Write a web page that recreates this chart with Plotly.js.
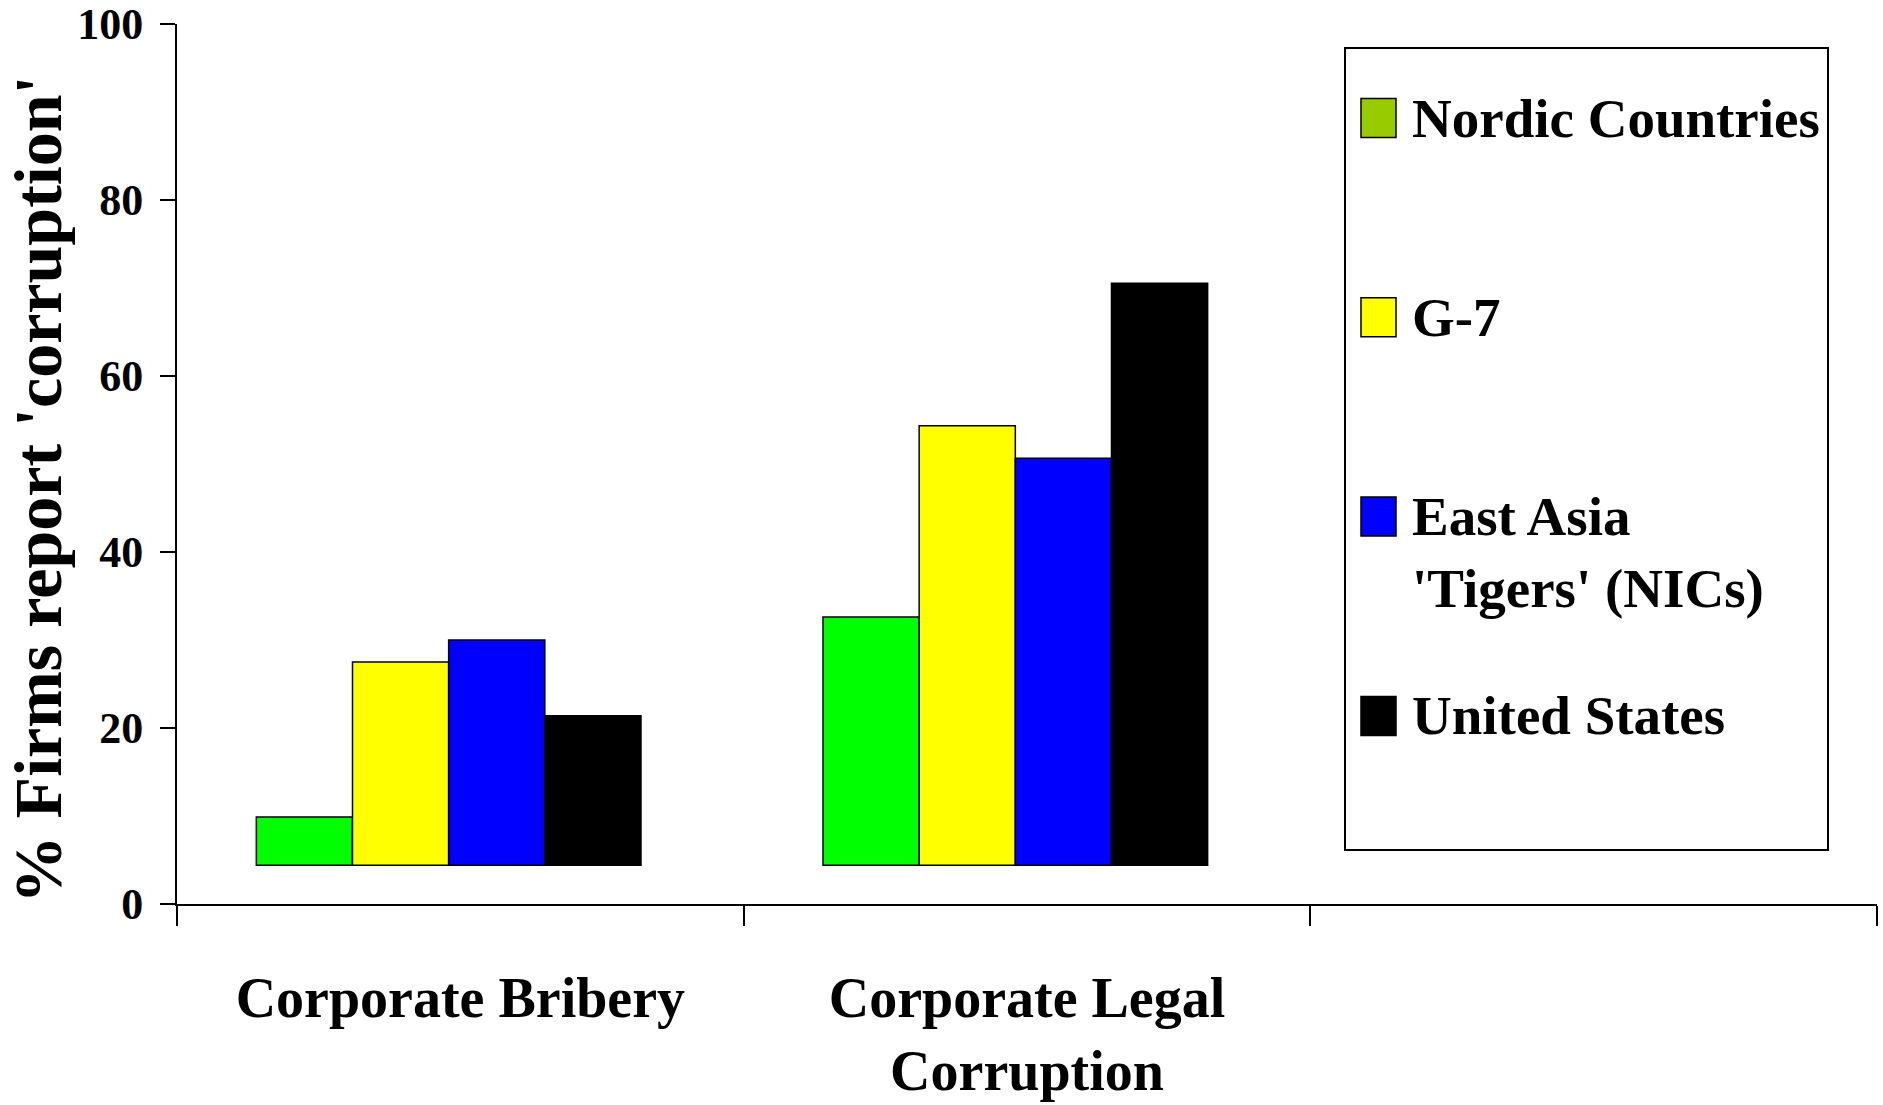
<!DOCTYPE html>
<html>
<head>
<meta charset="utf-8">
<script src="https://cdn.plot.ly/plotly-3.0.1.min.js"></script>
<style>html,body{margin:0;padding:0;background:#fff;}#chart{width:1883px;height:1105px;}</style>
</head>
<body>
<div id="chart"></div>
<script>
// ---- data ----
const categories = ["Corporate Bribery", "Corporate Legal<br>Corruption"];
const emptySlot = " ";
const seriesNames = ["Nordic Countries", "G-7", "East Asia<br>'Tigers' (NICs)", "United States"];
const barColors = ["#00FF00", "#FFFF00", "#0000FF", "#000000"];
const legendColors = ["#99CC00", "#FFFF00", "#0000FF", "#000000"];
const nordic = [9.9, 32.6];
const g7 = [27.5, 54.35];
const eastAsia = [30.0, 50.65];
const unitedStates = [21.4, 70.55];
const barBase = 4.4;
const yTicks = [0, 20, 40, 60, 80, 100];
const yTitle = "% Firms report 'corruption'";

// ---- layout constants ----
const W = 1883, H = 1105;
const M = {l: 177, r: 6, t: 24, b: 201};
const plotW = W - M.l - M.r, plotH = H - M.t - M.b;
const px2x = p => (p - M.l) / plotW;
const py2y = p => (H - M.b - p) / plotH;
const FONT = "Liberation Serif, Times New Roman, serif";

const seriesValues = [nordic, g7, eastAsia, unitedStates];
const barWidth = 0.1697;
const firstOffset = -0.36;

const traces = seriesValues.map((vals, i) => ({
  type: "bar",
  name: seriesNames[i],
  x: categories,
  y: vals.map(v => v - barBase),
  base: vals.map(() => barBase),
  width: barWidth,
  offset: firstOffset + i * barWidth,
  marker: {color: barColors[i], line: {color: "#000000", width: 1.5}},
  showlegend: false,
  hoverinfo: "skip"
}));

// manual legend (box, swatches, labels)
const shapes = [{
  type: "rect", xref: "paper", yref: "paper",
  x0: px2x(1345), x1: px2x(1828), y0: py2y(850), y1: py2y(48),
  line: {color: "#000000", width: 2}, fillcolor: "rgba(0,0,0,0)"
}];
const annotations = [];
const rowY0 = 118, rowStep = 199.3, sw = 19.5;
seriesNames.forEach((nm, i) => {
  const cy = rowY0 + i * rowStep;
  shapes.push({
    type: "rect", xref: "paper", yref: "paper",
    x0: px2x(1361), x1: px2x(1396), y0: py2y(cy + sw), y1: py2y(cy - sw),
    fillcolor: legendColors[i], line: {color: "#000000", width: 1.5}
  });
  const lines = nm.split("<br>").length;
  const textCy = cy + (lines - 1) * 72.4 / 2;
  annotations.push({
    xref: "paper", yref: "paper", x: px2x(1410), y: py2y(textCy),
    xanchor: "left", yanchor: "middle", align: "left", showarrow: false,
    text: nm, font: {family: FONT, size: 55, weight: "bold", color: "#000000"}
  });
});

const layout = {
  width: W, height: H,
  margin: M,
  paper_bgcolor: "#ffffff", plot_bgcolor: "#ffffff",
  barmode: "overlay",
  showlegend: false,
  xaxis: {
    type: "category",
    categoryorder: "array", categoryarray: categories.concat([emptySlot]),
    range: [-0.5, 2.5],
    showline: true, linecolor: "#000000", linewidth: 2,
    ticks: "outside", tickson: "boundaries", ticklen: 20, tickwidth: 2, tickcolor: "#000000",
    showgrid: false, zeroline: false,
    tickfont: {family: FONT, size: 56, weight: "bold", color: "#000000"},
    ticklabelstandoff: 44,
    fixedrange: true
  },
  yaxis: {
    range: [0, 100],
    tickvals: yTicks, ticktext: yTicks.map(String),
    showline: true, linecolor: "#000000", linewidth: 2,
    ticks: "outside", ticklen: 15, tickwidth: 2, tickcolor: "#000000",
    showgrid: false, zeroline: false,
    tickfont: {family: FONT, size: 44, weight: "bold", color: "#000000"},
    ticklabelstandoff: 8,
    ticklabeloverflow: "allow",
    title: {text: yTitle + "\u00A0\u00A0\u00A0\u200B", font: {family: FONT, size: 68, weight: "bold", color: "#000000"}, standoff: 0},
    automargin: false,
    fixedrange: true
  },
  shapes: shapes,
  annotations: annotations
};

Plotly.newPlot("chart", traces, layout, {displayModeBar: false, staticPlot: true});
</script>
</body>
</html>
